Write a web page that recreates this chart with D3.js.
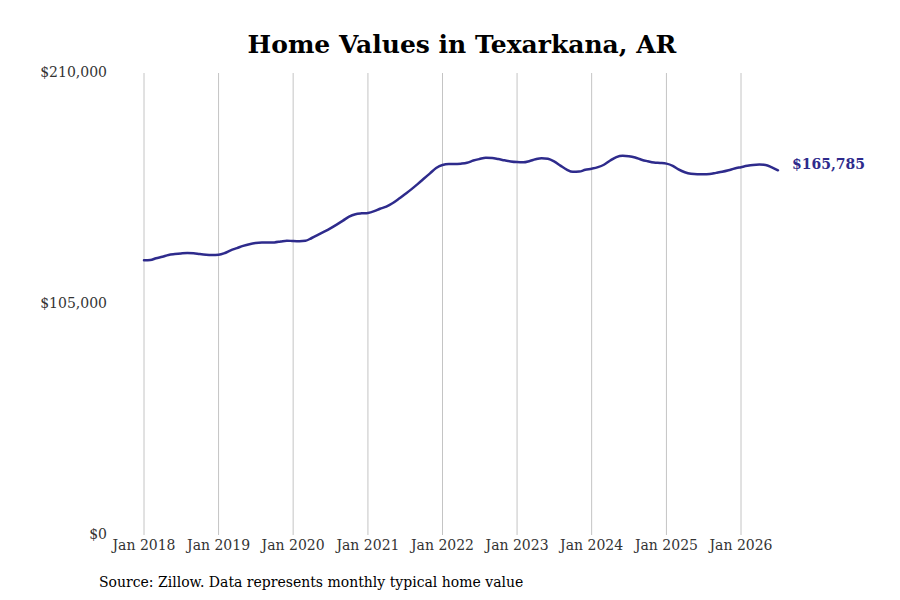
<!DOCTYPE html>
<html>
<head>
<meta charset="utf-8">
<script src="https://cdn.jsdelivr.net/npm/d3@7"></script>
<style>
  html, body { margin: 0; padding: 0; background: #fff; }
  svg { display: block; }
</style>
</head>
<body>
<svg id="chart" width="900" height="600"></svg>
<script>
const startYear = 2018;
const startMonth = 0;
const values = [
  124900, 125000, 125800, 126500, 127300, 127700, 128000, 128200, 128100, 127700, 127400, 127300,
  127400, 128200, 129400, 130400, 131400, 132200, 132700, 132900, 132900, 133000, 133400, 133800,
  133600, 133500, 133700, 135000, 136400, 137900, 139400, 141100, 142900, 144700, 145800, 146200,
  146400, 147200, 148300, 149300, 150800, 152800, 154900, 157100, 159500, 161900, 164400, 166800,
  168200, 168600, 168600, 168800, 169200, 170200, 170900, 171500, 171400, 170900, 170300, 169800,
  169500, 169400, 169900, 170800, 171300, 171000, 169800, 167900, 166100, 165100, 165200, 166000,
  166500, 167200, 168300, 170200, 171800, 172400, 172200, 171600, 170600, 169900, 169300, 169100,
  168800, 167800, 166200, 164900, 164200, 164000, 164000, 164100, 164600, 165100, 165800, 166600,
  167200, 167800, 168200, 168400, 168200, 167100, 165785
];
const xTickYears = [2018, 2019, 2020, 2021, 2022, 2023, 2024, 2025, 2026];
const yTicks = [0, 105000, 210000];
const title = "Home Values in Texarkana, AR";
const source = "Source: Zillow. Data represents monthly typical home value";

const data = values.map((v, i) => ({ date: new Date(startYear, startMonth + i, 1), value: v }));

const svg = d3.select("#chart");
const font = "'DejaVu Serif', serif";

const x = d3.scaleTime()
  .domain([new Date(2018, 0, 1), new Date(2026, 0, 1)])
  .range([144, 741]);
const y = d3.scaleLinear().domain([0, 210000]).range([535, 73]);

// vertical gridlines
svg.append("g").selectAll("line")
  .data(xTickYears)
  .join("line")
  .attr("x1", d => x(new Date(d, 0, 1)))
  .attr("x2", d => x(new Date(d, 0, 1)))
  .attr("y1", y(210000))
  .attr("y2", y(0))
  .attr("stroke", "#c4c4c4")
  .attr("stroke-width", 1);

// x axis labels
svg.append("g").selectAll("text")
  .data(xTickYears)
  .join("text")
  .attr("x", d => x(new Date(d, 0, 1)))
  .attr("y", 550)
  .attr("text-anchor", "middle")
  .attr("font-family", font)
  .attr("font-size", 14)
  .attr("fill", "#333")
  .text(d => "Jan " + d);

// y axis labels
svg.append("g").selectAll("text")
  .data(yTicks)
  .join("text")
  .attr("x", 107)
  .attr("y", d => y(d))
  .attr("dy", "0.32em")
  .attr("text-anchor", "end")
  .attr("font-family", font)
  .attr("font-size", 14)
  .attr("fill", "#333")
  .text(d => "$" + d3.format(",")(d));

// line
const line = d3.line()
  .x(d => x(d.date))
  .y(d => y(d.value))
  .curve(d3.curveMonotoneX);

svg.append("path")
  .datum(data)
  .attr("d", line)
  .attr("fill", "none")
  .attr("stroke", "#2e2b8c")
  .attr("stroke-width", 2.5)
  .attr("stroke-linejoin", "round")
  .attr("stroke-linecap", "round");

// end label
const last = data[data.length - 1];
svg.append("text")
  .attr("x", x(last.date) + 14)
  .attr("y", y(last.value) - 6)
  .attr("dy", "0.32em")
  .attr("font-family", font)
  .attr("font-size", 14)
  .attr("font-weight", "bold")
  .attr("fill", "#2e2b8c")
  .text("$" + d3.format(",")(last.value));

// title
svg.append("text")
  .attr("x", 462)
  .attr("y", 53)
  .attr("text-anchor", "middle")
  .attr("font-family", font)
  .attr("font-size", 25)
  .attr("font-weight", "bold")
  .attr("fill", "#000")
  .text(title);

// source
svg.append("text")
  .attr("x", 99)
  .attr("y", 587)
  .attr("font-family", font)
  .attr("font-size", 14)
  .attr("fill", "#000")
  .text(source);
</script>
</body>
</html>
